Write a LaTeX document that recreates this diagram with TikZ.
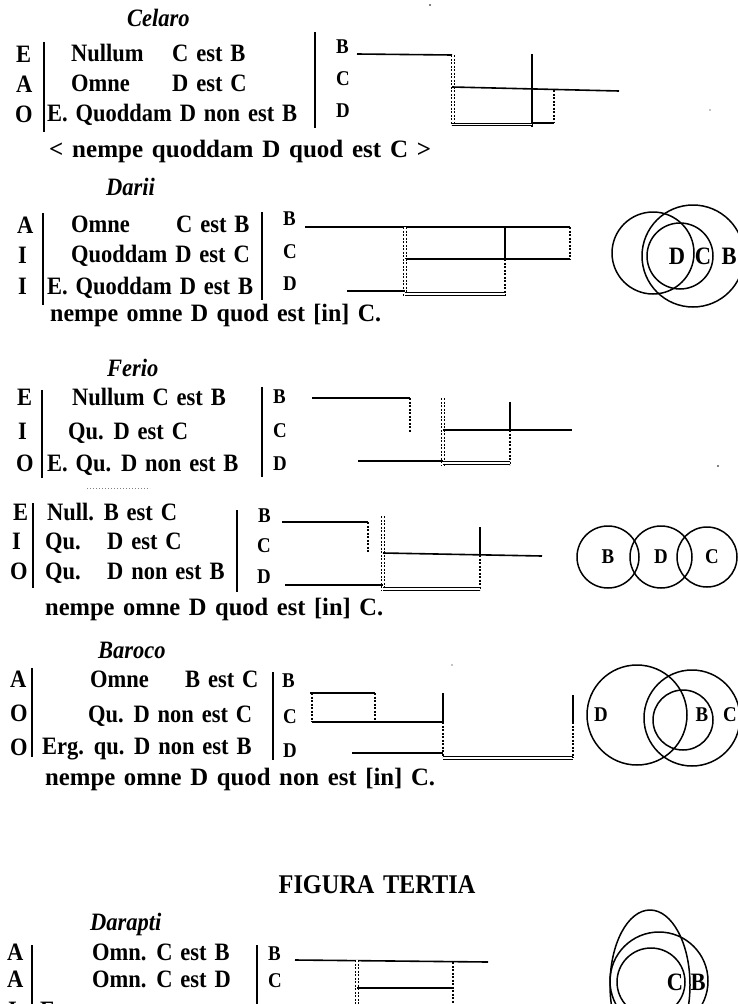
\documentclass[tikz,border=0pt]{standalone}
\usepackage{graphicx}
\usepackage{fontspec}
\setmainfont[FakeStretch=0.9, WordSpace=1.4]{Liberation Serif}
\newcommand\bodyfont{\fontsize{25}{28}\selectfont\bfseries}
\newcommand\labfont{\fontsize{21}{24}\selectfont\bfseries}
\newcommand\headfont{\fontsize{27}{31}\selectfont\bfseries}
\newcommand\circfont[1]{\fontsize{#1}{#1}\selectfont\bfseries}
% set a line of text to a given width, keeping its height
\newcommand\fitto[2]{\resizebox{#1}{\height}{#2}}
\tikzset{
  txt/.style={anchor=base west, inner sep=0pt, font=\bodyfont},
  lab/.style={anchor=base west, inner sep=0pt, font=\labfont},
  ttl/.style={anchor=base west, inner sep=0pt, font=\bodyfont\itshape},
  clab/.style={anchor=center, inner sep=0pt, font=#1},
  clab/.default=\bodyfont,
  ln/.style={line width=1.6pt},
  thin/.style={line width=1.1pt},
  dsh/.style={line width=1.6pt, dash pattern=on 2.2pt off 1.3pt},
  ddsh/.style={line width=1pt, double, double distance=1.2pt, dash pattern=on 2.2pt off 1.3pt},
  dbl/.style={line width=1.1pt, double, double distance=1.6pt},
  bar/.style={line width=1.4pt},
  circ/.style={line width=1.5pt},
  speck/.style={fill=black},
}
\begin{document}
\begin{tikzpicture}[x=1pt, y=-1pt]
\useasboundingbox (0,0) rectangle (738,1004);
\clip (0,0) rectangle (738,1004);

% ---------- Celaro ----------
\node[ttl] (t1) at (127,26) {Celaro};
\node[txt] (q1e) at (16,62) {E};
\node[txt] (q1a) at (16,92) {A};
\node[txt] (q1o) at (15,122) {O};
\draw[bar] (44,42) -- (44,132);
\node[txt] (s1a) at (71,61) {Nullum};
\node[txt] (s1b) at (172,61) {C est B};
\node[txt] (s1c) at (71,91) {Omne};
\node[txt] (s1d) at (172,91) {D est C};
\node[txt] (s1e) at (47,121) {E. Quoddam D non est B};
\draw[bar] (315,32) -- (315,128);
\node[lab] (b1) at (336,53) {B};
\node[lab] (c1) at (336,85) {C};
\node[lab] (d1) at (336,117) {D};
\node[txt] (n1) at (49,157) {\fitto{382pt}{< nempe quoddam D quod est C >}};
\draw[ln] (357,54) -- (452,55);
\draw[ddsh] (453,55) -- (453,125);
\draw[ln] (532,54) -- (532,127);
\draw[ln] (452,87) -- (619,91);
\draw[dsh] (554,90) -- (554,123);
\draw[thin] (532,123) -- (554,123);
\draw[dbl] (452,124.5) -- (532,124.5);

% ---------- Darii ----------
\node[ttl] (t2) at (106,195) {Darii};
\node[txt] (q2a) at (17,233) {A};
\node[txt] (q2i) at (18,263) {I};
\node[txt] (q2j) at (18,294) {I};
\draw[bar] (43,213) -- (43,305);
\node[txt] (s2a) at (71,232) {Omne};
\node[txt] (s2b) at (176,232) {C est B};
\node[txt] (s2c) at (71,262) {Quoddam D est C};
\node[txt] (s2d) at (47,294) {E. Quoddam D est B};
\draw[bar] (262,212) -- (262,300);
\node[lab] (b2) at (283,225) {B};
\node[lab] (c2) at (283,258) {C};
\node[lab] (d2) at (283,290) {D};
\node[txt] (n2) at (50,321) {\fitto{331pt}{nempe omne D quod est [in] C.}};
\draw[ln] (305,227) -- (570,227);
\draw[dsh] (570,227) -- (570,259);
\draw[ln] (405,259) -- (570,259);
\draw[ddsh] (405,227) -- (405,296);
\draw[ln] (505,227) -- (505,259);
\draw[dsh] (505,259) -- (505,296);
\draw[ln] (347,291) -- (405,291);
\draw[dbl] (405,294) -- (505,294);
\draw[circ] (653,253) circle[radius=41pt];
\draw[circ] (693,256) circle[radius=51pt];
\draw[circ] (680,256) circle[radius=33pt];
\node[clab=\circfont{25}] (e2d) at (677,256) {D};
\node[clab=\circfont{25}] (e2c) at (703,256) {C};
\node[clab=\circfont{25}] (e2b) at (729,256) {B};

% ---------- Ferio ----------
\node[ttl] (t3) at (107,376) {Ferio};
\node[txt] (q3e) at (17,405) {E};
\node[txt] (q3i) at (18,439) {I};
\node[txt] (q3o) at (16,471) {O};
\draw[bar] (42,390) -- (42,478);
\node[txt] (s3a) at (72,405) {Nullum C est B};
\node[txt] (s3b) at (68,439) {Qu. D est C};
\node[txt] (s3c) at (47,471) {E. Qu. D non est B};
\draw[bar] (262,387) -- (262,477);
\node[lab] (b3) at (273,403) {B};
\node[lab] (c3) at (273,437) {C};
\node[lab] (d3) at (273,470) {D};
\draw[ln] (312,398) -- (410,398);
\draw[dsh] (410,398) -- (410,432);
\draw[ddsh] (443,398) -- (443,465);
\draw[ln] (443,430) -- (572,430);
\draw[ln] (510,402) -- (510,430);
\draw[dsh] (510,430) -- (510,465);
\draw[ln] (358,461) -- (443,461);
\draw[dbl] (443,463) -- (510,463);

% ---------- Festino ----------
\draw[dotted, line width=1pt, gray] (87,488) -- (150,488);
\node[txt] (q4e) at (13,520) {E};
\node[txt] (q4i) at (12,549) {I};
\node[txt] (q4o) at (10,579) {O};
\draw[bar] (33,503) -- (33,588);
\node[txt] (s4a) at (47,520) {Null. B est C};
\node[txt] (s4b) at (45,549) {Qu.};
\node[txt] (s4c) at (107,549) {D est C};
\node[txt] (s4d) at (45,579) {Qu.};
\node[txt] (s4e) at (107,579) {D non est B};
\draw[bar] (237,510) -- (237,592);
\node[lab] (b4) at (258,522) {B};
\node[lab] (c4) at (257,552) {C};
\node[lab] (d4) at (257,583) {D};
\node[txt] (n4) at (45,615) {\fitto{338pt}{nempe omne D quod est [in] C.}};
\draw[ln] (282,522) -- (368,522);
\draw[dsh] (368,522) -- (368,553);
\draw[ddsh] (383,516) -- (383,590);
\draw[ln] (383,553) -- (542,556);
\draw[ln] (480,527) -- (480,555);
\draw[dsh] (480,555) -- (480,590);
\draw[ln] (285,585) -- (383,585);
\draw[dbl] (383,589) -- (480,589);
\draw[circ] (608,557) circle[radius=31pt];
\draw[circ] (661,557) circle[radius=31pt];
\draw[circ] (707,557) circle[radius=30pt];
\node[clab=\labfont] (e4b) at (608,557) {B};
\node[clab=\labfont] (e4d) at (661,557) {D};
\node[clab=\labfont] (e4c) at (712,557) {C};

% ---------- Baroco ----------
\node[ttl] (t5) at (98,658) {Baroco};
\node[txt] (q5a) at (10,687) {A};
\node[txt] (q5o) at (10,721) {O};
\node[txt] (q5p) at (10,755) {O};
\draw[bar] (32,668) -- (32,757);
\node[txt] (s5a) at (90,687) {Omne};
\node[txt] (s5b) at (185,687) {B est C};
\node[txt] (s5c) at (88,722) {Qu. D non est C};
\node[txt] (s5d) at (42,754) {Erg. qu. D non est B};
\draw[bar] (273,672) -- (273,760);
\node[lab] (b5) at (282,687) {B};
\node[lab] (c5) at (283,723) {C};
\node[lab] (d5) at (283,757) {D};
\node[txt] (n5) at (45,785) {\fitto{390pt}{nempe omne D quod non est [in] C.}};
\draw[thin] (310,693) -- (375,693);
\draw[dsh] (312,693) -- (312,722);
\draw[dsh] (375,693) -- (375,722);
\draw[ln] (312,722) -- (443,722);
\draw[thin] (443,693) -- (443,722);
\draw[dsh] (443,722) -- (443,757);
\draw[ln] (352,753) -- (443,753);
\draw[dbl] (443,758) -- (573,758);
\draw[thin] (573,695) -- (573,722);
\draw[dsh] (573,722) -- (573,758);
\draw[circ] (637,715) circle[radius=50pt];
\draw[circ] (692,718) circle[radius=48pt];
\draw[circ] (683,720) circle[radius=30pt];
\node[clab=\circfont{21}] (e5d) at (601,715) {D};
\node[clab=\circfont{21}] (e5b) at (702,715) {B};
\node[clab=\circfont{21}] (e5c) at (730,715) {C};

% ---------- Figura tertia: Darapti ----------
\node[anchor=base, inner sep=0pt, font=\headfont] (fig3) at (377,893) {FIGURA TERTIA};
\node[ttl] (t6) at (90,930) {Darapti};
\node[txt] (q6a) at (7,960) {A};
\node[txt] (q6b) at (7,987) {A};
\node[txt] (q6i) at (8,1018) {I};
\draw[bar] (32,945) -- (32,1004);
\node[txt] (s6a) at (92,960) {Omn. C est B};
\node[txt] (s6b) at (92,987) {Omn. C est D};
\node[txt] (s6c) at (40,1018) {E.};
\draw[bar] (257,945) -- (257,1004);
\node[lab] (b6) at (268,960) {B};
\node[lab] (c6) at (268,987) {C};
\draw[ln] (295,960) -- (488,962);
\draw[ddsh] (357,960) -- (357,1004);
\draw[ln] (357,988) -- (453,988);
\draw[dsh] (453,962) -- (453,1004);
\draw[circ] (650,985) ellipse[x radius=40pt, y radius=75pt];
\draw[circ] (659,981) circle[radius=49pt];
\draw[circ] (651,982) circle[radius=34pt];
\node[clab=\circfont{25}] (e6c) at (675,982) {C};
\node[clab=\circfont{25}] (e6b) at (698,982) {B};

% stray printing specks
\fill[speck] (430,5) circle[radius=0.9pt];
\fill[speck] (710,110) circle[radius=0.7pt];
\fill[speck] (718,466) circle[radius=0.9pt];
\fill[speck] (452,665) circle[radius=0.6pt];
\end{tikzpicture}
\end{document}
